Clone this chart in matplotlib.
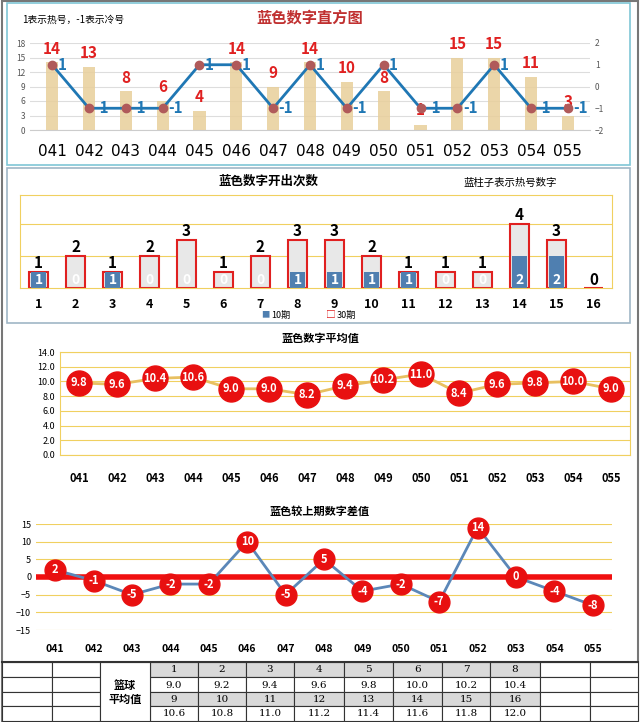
import matplotlib
matplotlib.use("Agg")
import matplotlib.pyplot as plt
from matplotlib.patches import Rectangle
import numpy as np

plt.rcParams['font.family'] = ['Noto Sans CJK SC', 'DejaVu Sans']

periods = ["041","042","043","044","045","046","047","048","049","050","051","052","053","054","055"]
blue_nums = [14,13,8,6,4,14,9,14,10,8,1,15,15,11,3]
hot_cold = [1,-1,-1,-1,1,1,-1,1,-1,1,-1,-1,1,-1,-1]
numbers = list(range(1,17))
count30 = [1,2,1,2,3,1,2,3,3,2,1,1,1,4,3,0]
count10 = [1,0,1,0,0,0,0,1,1,1,1,0,0,2,2,0]
avg_vals = [9.8,9.6,10.4,10.6,9.0,9.0,8.2,9.4,10.2,11.0,8.4,9.6,9.8,10.0,9.0]
diff_vals = [2,-1,-5,-2,-2,10,-5,5,-4,-2,-7,14,0,-4,-8]
tbl_nums1 = ["1","2","3","4","5","6","7","8"]
tbl_avg1 = ["9.0","9.2","9.4","9.6","9.8","10.0","10.2","10.4"]
tbl_nums2 = ["9","10","11","12","13","14","15","16"]
tbl_avg2 = ["10.6","10.8","11.0","11.2","11.4","11.6","11.8","12.0"]

W, H = 640, 722
fig = plt.figure(figsize=(6.4, 7.22), dpi=100)

def ax_px(x0, y0, x1, y1, **kw):
    return fig.add_axes([x0/W, 1-y1/H, (x1-x0)/W, (y1-y0)/H], **kw)

bg = ax_px(0, 0, 640, 722); bg.set_xlim(0, W); bg.set_ylim(H, 0); bg.axis('off')
bg.add_patch(Rectangle((2, 1), 636, 720, fill=False, ec='#777777', lw=1.5))
bg.add_patch(Rectangle((7, 3), 623, 162, fill=False, ec='#7fc6d6', lw=1.2))
bg.add_patch(Rectangle((7, 168), 623, 155, fill=False, ec='#9fb6c6', lw=1.2))

# ---- Panel 1
x = np.arange(len(periods))
a1 = ax_px(30, 43, 590, 130)
a1.bar(x, blue_nums, width=0.33, color='#e8cf9a', alpha=0.85)
a1.set_ylim(0, 18); a1.set_yticks([0,3,6,9,12,15,18])
a1.set_xlim(-0.6, len(x)-0.4)
a1.tick_params(axis='y', labelsize=6, colors='#555555', length=0)
a1.set_xticks(x); a1.set_xticklabels(periods, fontsize=11, fontfamily='DejaVu Sans')
a1.tick_params(axis='x', length=0, pad=10)
a1.grid(axis='y', color='#dddddd', lw=0.8); a1.set_axisbelow(True)
for s in a1.spines.values(): s.set_visible(False)
a1.spines['bottom'].set_visible(True); a1.spines['bottom'].set_color('#cccccc')
for i, v in enumerate(blue_nums):
    if v < 3:
        a1.text(i, v + 1.5, str(v), color='#e02020', fontsize=11, fontweight='bold', ha='center', va='bottom')
    else:
        a1.text(i, v + 1.2, str(v), color='#e02020', fontsize=11, fontweight='bold', ha='center', va='bottom', clip_on=False)
b1 = a1.twinx()
b1.plot(x, hot_cold, color='#1f77b4', lw=2, marker='o', mfc='#b05a5a', mec='#b05a5a', ms=6)
b1.set_ylim(-2, 2); b1.set_yticks([-2,-1,0,1,2])
b1.tick_params(axis='y', labelsize=6, colors='#555555', length=0)
for s in b1.spines.values(): s.set_visible(False)
for i, v in enumerate(hot_cold):
    b1.text(i + 0.15, v, str(v), color='#1f77b4', fontsize=11, fontweight='bold', ha='left', va='center')
fig.text(310/W, 1-18/H, "蓝色数字直方图", fontsize=11, color='#c03030', fontweight='bold', ha='center', va='center')
fig.text(22/W, 1-20/H, "1表示热号，-1表示冷号", fontsize=7, ha='left', va='center')

# ---- Panel 2
n = np.arange(len(numbers))
a2 = ax_px(20, 195, 612, 288)
a2.bar(n, count30, width=0.5, color='#e8e8e8', ec='#e02020', lw=1.5)
a2.bar(n, count10, width=0.42, color='#4f7fb0')
a2.set_ylim(0, 5.8); a2.set_xlim(-0.5, len(n)-0.5)
a2.set_yticks([2, 4]); a2.tick_params(axis='y', length=0, labelleft=False)
a2.grid(axis='y', color='#f0d060', lw=0.8); a2.set_axisbelow(True)
for s in a2.spines.values(): s.set_color('#f0d060')
a2.set_xticks(n); a2.set_xticklabels([str(v) for v in numbers], fontsize=9, fontweight='bold')
a2.tick_params(axis='x', length=0, pad=7)
for i in n:
    if count30[i] > 0:
        a2.text(i, count30[i] + 0.05, str(count30[i]), ha='center', va='bottom', fontsize=11, fontweight='bold')
        a2.text(i, 0.5, str(count10[i]), ha='center', va='center', fontsize=10, fontweight='bold', color='white')
    else:
        a2.text(i, 0.5, "0", ha='center', va='center', fontsize=11, fontweight='bold')
fig.text(268/W, 1-181/H, "蓝色数字开出次数", fontsize=9, fontweight='bold', ha='center', va='center')
fig.text(510/W, 1-183/H, "蓝柱子表示热号数字", fontsize=7.5, ha='center', va='center')
fig.text(270/W, 1-315/H, "■", color='#4f7fb0', fontsize=6, ha='right', va='center')
fig.text(271/W, 1-315/H, "10期", fontsize=6.5, ha='left', va='center')
fig.text(336/W, 1-315/H, "□", color='#e02020', fontsize=7, ha='right', va='center')
fig.text(337/W, 1-315/H, "30期", fontsize=6.5, ha='left', va='center')

# ---- Panel 3
a3 = ax_px(60, 352, 630, 455)
a3.plot(x, avg_vals, color='#e8c060', lw=2, marker='o', ms=18, mfc='#e81010', mec='#e81010')
for i, v in enumerate(avg_vals):
    a3.text(i, v, f"{v:.1f}", ha='center', va='center', fontsize=8, fontweight='bold', color='white')
a3.set_ylim(0, 14); a3.set_yticks(np.arange(0, 15, 2))
a3.set_yticklabels([f"{v:.1f}" for v in np.arange(0, 15, 2)])
a3.set_xlim(-0.5, len(x)-0.5)
a3.tick_params(axis='y', labelsize=6.5, length=0)
a3.set_xticks(x); a3.set_xticklabels(periods, fontsize=8, fontweight='bold')
a3.tick_params(axis='x', length=0, pad=12)
a3.grid(axis='y', color='#f0d060', lw=0.8); a3.set_axisbelow(True)
for s in a3.spines.values(): s.set_color('#f0d060')
fig.text(320/W, 1-338/H, "蓝色数字平均值", fontsize=8, fontweight='bold', ha='center', va='center')

# ---- Panel 4
a4 = ax_px(36, 524, 612, 630)
a4.axhline(0, color='#f01010', lw=4)
a4.plot(x, diff_vals, color='#5b87b8', lw=2, marker='o', ms=15, mfc='#e81010', mec='#e81010', clip_on=False)
for i, v in enumerate(diff_vals):
    a4.text(i, v, str(v), ha='center', va='center', fontsize=8, fontweight='bold', color='white')
a4.set_ylim(-15, 15); a4.set_yticks(np.arange(-15, 16, 5))
a4.set_xlim(-0.5, len(x)-0.5)
a4.tick_params(axis='y', labelsize=6.5, length=0)
a4.set_xticks(x); a4.set_xticklabels(periods, fontsize=7.5, fontweight='bold')
a4.tick_params(axis='x', length=0, pad=10)
a4.grid(axis='y', color='#f0d060', lw=0.8); a4.set_axisbelow(True)
for s in a4.spines.values(): s.set_visible(False)
fig.text(320/W, 1-511/H, "蓝色较上期数字差值", fontsize=8, fontweight='bold', ha='center', va='center')

# ---- Table
cols = [2, 52, 100, 150, 198, 246, 294, 344, 393, 442, 490, 540, 590, 638]
rows = [662, 677, 692, 706, 721]
bg.add_line(plt.Line2D([2, 638], [662, 662], color='#333333', lw=1.5))
for j in range(4):
    for k in range(len(cols)-1):
        x0, x1 = cols[k], cols[k+1]
        y0, y1 = rows[j], rows[j+1]
        if 3 <= k <= 10:
            fc = '#d9d9d9' if j in (0, 2) else 'white'
            bg.add_patch(Rectangle((x0, y0), x1-x0, y1-y0, fc=fc, ec='#333333', lw=0.8))
            arr = [tbl_nums1, tbl_avg1, tbl_nums2, tbl_avg2][j]
            bg.text((x0+x1)/2, (y0+y1)/2+0.5, arr[k-3], ha='center', va='center', fontsize=7.5, fontfamily='DejaVu Serif')
        elif k != 2:
            bg.add_patch(Rectangle((x0, y0), x1-x0, y1-y0, fc='white', ec='#333333', lw=0.8))
bg.add_patch(Rectangle((cols[2], rows[0]), cols[3]-cols[2], rows[4]-rows[0], fc='white', ec='#333333', lw=0.8))
bg.text(125, 685, "篮球", ha='center', va='center', fontsize=8, fontweight='bold')
bg.text(125, 699, "平均值", ha='center', va='center', fontsize=8, fontweight='bold')

fig.savefig("out.png", dpi=100)
